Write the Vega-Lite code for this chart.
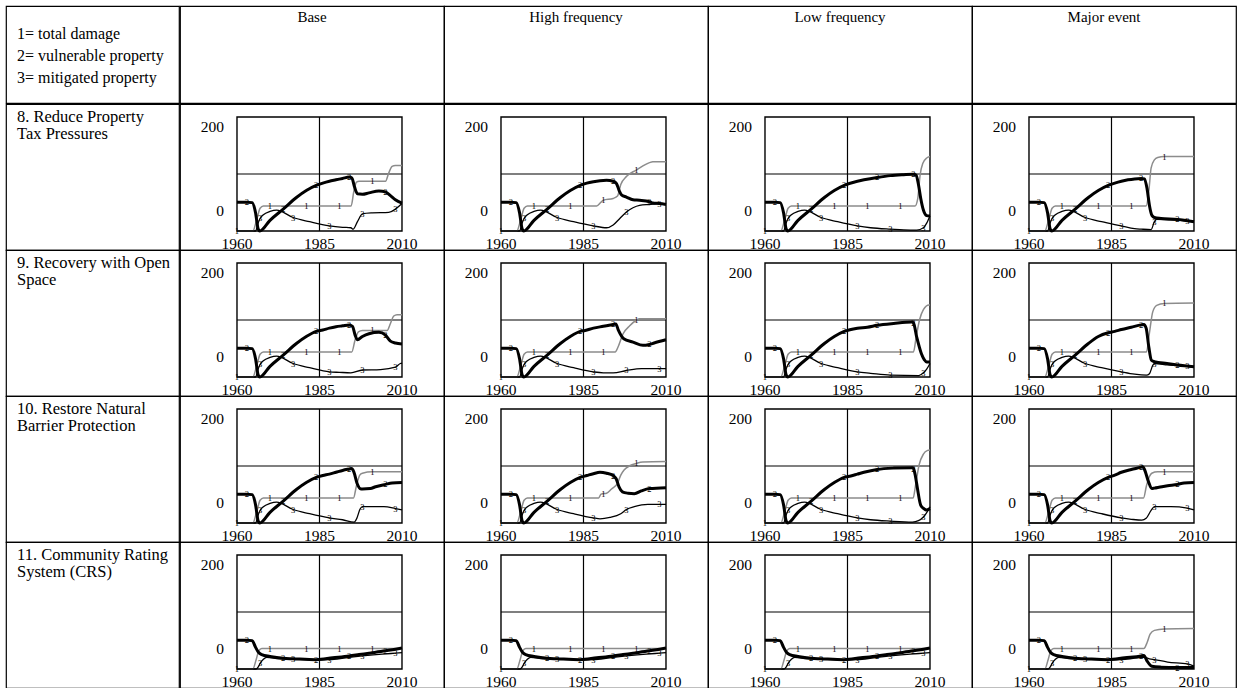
{
"$schema":"https://vega.github.io/schema/vega-lite/v6.json",
"padding":{"left":5,"top":5,"right":2,"bottom":1},
"background":"white",
"config":{"view":{"stroke":"#000000","strokeWidth":1.2},"facet":{"spacing":0},"text":{"font":"Liberation Serif"}},
"datasets":{"lines":[
{"r":8,"c":"B","k":1,"t":1960,"v":-45},{"r":8,"c":"B","k":1,"t":1964.8,"v":-45},{"r":8,"c":"B","k":1,"t":1966,"v":-20},{"r":8,"c":"B","k":1,"t":1967,"v":4},{"r":8,"c":"B","k":1,"t":1968,"v":9},{"r":8,"c":"B","k":1,"t":1970,"v":9},{"r":8,"c":"B","k":1,"t":1981,"v":9},{"r":8,"c":"B","k":1,"t":1991,"v":9},{"r":8,"c":"B","k":1,"t":1994.6,"v":9},{"r":8,"c":"B","k":1,"t":1995.4,"v":40},{"r":8,"c":"B","k":1,"t":1996.2,"v":60},{"r":8,"c":"B","k":1,"t":1997,"v":62},{"r":8,"c":"B","k":1,"t":2001,"v":62},{"r":8,"c":"B","k":1,"t":2005,"v":62},{"r":8,"c":"B","k":1,"t":2006,"v":80},{"r":8,"c":"B","k":1,"t":2007,"v":94},{"r":8,"c":"B","k":1,"t":2008,"v":96},{"r":8,"c":"B","k":1,"t":2010,"v":96},
{"r":8,"c":"B","k":2,"t":1960,"v":17},{"r":8,"c":"B","k":2,"t":1963,"v":17},{"r":8,"c":"B","k":2,"t":1964.6,"v":16},{"r":8,"c":"B","k":2,"t":1965.6,"v":-5},{"r":8,"c":"B","k":2,"t":1966.4,"v":-40},{"r":8,"c":"B","k":2,"t":1966.9,"v":-45},{"r":8,"c":"B","k":2,"t":1970,"v":-22},{"r":8,"c":"B","k":2,"t":1974,"v":2},{"r":8,"c":"B","k":2,"t":1978,"v":27},{"r":8,"c":"B","k":2,"t":1981,"v":42},{"r":8,"c":"B","k":2,"t":1984,"v":53},{"r":8,"c":"B","k":2,"t":1986,"v":58},{"r":8,"c":"B","k":2,"t":1988,"v":62},{"r":8,"c":"B","k":2,"t":1990,"v":65},{"r":8,"c":"B","k":2,"t":1992,"v":68},{"r":8,"c":"B","k":2,"t":1994,"v":71},{"r":8,"c":"B","k":2,"t":1994.8,"v":69},{"r":8,"c":"B","k":2,"t":1995.6,"v":50},{"r":8,"c":"B","k":2,"t":1996.5,"v":35},{"r":8,"c":"B","k":2,"t":1998,"v":34},{"r":8,"c":"B","k":2,"t":2000,"v":37},{"r":8,"c":"B","k":2,"t":2003,"v":41},{"r":8,"c":"B","k":2,"t":2005,"v":39},{"r":8,"c":"B","k":2,"t":2006.5,"v":31},{"r":8,"c":"B","k":2,"t":2008,"v":22},{"r":8,"c":"B","k":2,"t":2010,"v":15},
{"r":8,"c":"B","k":3,"t":1960,"v":-45},{"r":8,"c":"B","k":3,"t":1965.6,"v":-45},{"r":8,"c":"B","k":3,"t":1966.4,"v":-28},{"r":8,"c":"B","k":3,"t":1967,"v":-18},{"r":8,"c":"B","k":3,"t":1968,"v":-10},{"r":8,"c":"B","k":3,"t":1970,"v":-3},{"r":8,"c":"B","k":3,"t":1972,"v":0},{"r":8,"c":"B","k":3,"t":1977,"v":-16},{"r":8,"c":"B","k":3,"t":1982,"v":-25},{"r":8,"c":"B","k":3,"t":1988,"v":-34},{"r":8,"c":"B","k":3,"t":1992,"v":-37},{"r":8,"c":"B","k":3,"t":1994.5,"v":-38},{"r":8,"c":"B","k":3,"t":1995.2,"v":-41},{"r":8,"c":"B","k":3,"t":1996.5,"v":-25},{"r":8,"c":"B","k":3,"t":1998,"v":-8},{"r":8,"c":"B","k":3,"t":2001,"v":-6},{"r":8,"c":"B","k":3,"t":2006,"v":-5},{"r":8,"c":"B","k":3,"t":2008,"v":2},{"r":8,"c":"B","k":3,"t":2010,"v":14},

{"r":8,"c":"H","k":1,"t":1960,"v":-45},{"r":8,"c":"H","k":1,"t":1964.8,"v":-45},{"r":8,"c":"H","k":1,"t":1966,"v":-20},{"r":8,"c":"H","k":1,"t":1967,"v":4},{"r":8,"c":"H","k":1,"t":1968,"v":9},{"r":8,"c":"H","k":1,"t":1970,"v":9},{"r":8,"c":"H","k":1,"t":1981,"v":9},{"r":8,"c":"H","k":1,"t":1989,"v":9},{"r":8,"c":"H","k":1,"t":1990.3,"v":17},{"r":8,"c":"H","k":1,"t":1991,"v":21},{"r":8,"c":"H","k":1,"t":1994,"v":25},{"r":8,"c":"H","k":1,"t":1995.3,"v":30},{"r":8,"c":"H","k":1,"t":1996.3,"v":55},{"r":8,"c":"H","k":1,"t":1998,"v":72},{"r":8,"c":"H","k":1,"t":2001,"v":86},{"r":8,"c":"H","k":1,"t":2003,"v":95},{"r":8,"c":"H","k":1,"t":2005,"v":102},{"r":8,"c":"H","k":1,"t":2006,"v":104},{"r":8,"c":"H","k":1,"t":2010,"v":104},
{"r":8,"c":"H","k":2,"t":1960,"v":17},{"r":8,"c":"H","k":2,"t":1963,"v":17},{"r":8,"c":"H","k":2,"t":1964.6,"v":16},{"r":8,"c":"H","k":2,"t":1965.6,"v":-5},{"r":8,"c":"H","k":2,"t":1966.4,"v":-40},{"r":8,"c":"H","k":2,"t":1966.9,"v":-45},{"r":8,"c":"H","k":2,"t":1970,"v":-22},{"r":8,"c":"H","k":2,"t":1974,"v":2},{"r":8,"c":"H","k":2,"t":1978,"v":27},{"r":8,"c":"H","k":2,"t":1981,"v":42},{"r":8,"c":"H","k":2,"t":1984,"v":53},{"r":8,"c":"H","k":2,"t":1986,"v":58},{"r":8,"c":"H","k":2,"t":1988,"v":61},{"r":8,"c":"H","k":2,"t":1990,"v":63},{"r":8,"c":"H","k":2,"t":1992,"v":64},{"r":8,"c":"H","k":2,"t":1994,"v":62},{"r":8,"c":"H","k":2,"t":1995,"v":57},{"r":8,"c":"H","k":2,"t":1995.8,"v":42},{"r":8,"c":"H","k":2,"t":1996.6,"v":32},{"r":8,"c":"H","k":2,"t":1998,"v":28},{"r":8,"c":"H","k":2,"t":2000,"v":22},{"r":8,"c":"H","k":2,"t":2002,"v":21},{"r":8,"c":"H","k":2,"t":2005,"v":18},{"r":8,"c":"H","k":2,"t":2006,"v":15},{"r":8,"c":"H","k":2,"t":2008,"v":14},{"r":8,"c":"H","k":2,"t":2010,"v":12},
{"r":8,"c":"H","k":3,"t":1960,"v":-45},{"r":8,"c":"H","k":3,"t":1965.6,"v":-45},{"r":8,"c":"H","k":3,"t":1966.4,"v":-28},{"r":8,"c":"H","k":3,"t":1967,"v":-18},{"r":8,"c":"H","k":3,"t":1968,"v":-10},{"r":8,"c":"H","k":3,"t":1970,"v":-3},{"r":8,"c":"H","k":3,"t":1972,"v":0},{"r":8,"c":"H","k":3,"t":1977,"v":-16},{"r":8,"c":"H","k":3,"t":1982,"v":-25},{"r":8,"c":"H","k":3,"t":1988,"v":-34},{"r":8,"c":"H","k":3,"t":1992,"v":-38},{"r":8,"c":"H","k":3,"t":1994,"v":-32},{"r":8,"c":"H","k":3,"t":1996,"v":-18},{"r":8,"c":"H","k":3,"t":1998,"v":-4},{"r":8,"c":"H","k":3,"t":2000,"v":5},{"r":8,"c":"H","k":3,"t":2002,"v":10},{"r":8,"c":"H","k":3,"t":2005,"v":12},{"r":8,"c":"H","k":3,"t":2008,"v":14},{"r":8,"c":"H","k":3,"t":2010,"v":14},

{"r":8,"c":"L","k":1,"t":1960,"v":-45},{"r":8,"c":"L","k":1,"t":1964.8,"v":-45},{"r":8,"c":"L","k":1,"t":1966,"v":-20},{"r":8,"c":"L","k":1,"t":1967,"v":4},{"r":8,"c":"L","k":1,"t":1968,"v":9},{"r":8,"c":"L","k":1,"t":1970,"v":9},{"r":8,"c":"L","k":1,"t":1981,"v":9},{"r":8,"c":"L","k":1,"t":1991,"v":9},{"r":8,"c":"L","k":1,"t":2001,"v":9},{"r":8,"c":"L","k":1,"t":2005.5,"v":9},{"r":8,"c":"L","k":1,"t":2006.3,"v":25},{"r":8,"c":"L","k":1,"t":2007,"v":75},{"r":8,"c":"L","k":1,"t":2007.8,"v":100},{"r":8,"c":"L","k":1,"t":2009,"v":112},{"r":8,"c":"L","k":1,"t":2010,"v":115},
{"r":8,"c":"L","k":2,"t":1960,"v":17},{"r":8,"c":"L","k":2,"t":1963,"v":17},{"r":8,"c":"L","k":2,"t":1964.6,"v":16},{"r":8,"c":"L","k":2,"t":1965.6,"v":-5},{"r":8,"c":"L","k":2,"t":1966.4,"v":-40},{"r":8,"c":"L","k":2,"t":1966.9,"v":-45},{"r":8,"c":"L","k":2,"t":1970,"v":-22},{"r":8,"c":"L","k":2,"t":1974,"v":2},{"r":8,"c":"L","k":2,"t":1978,"v":27},{"r":8,"c":"L","k":2,"t":1981,"v":42},{"r":8,"c":"L","k":2,"t":1984,"v":53},{"r":8,"c":"L","k":2,"t":1988,"v":62},{"r":8,"c":"L","k":2,"t":1990,"v":65},{"r":8,"c":"L","k":2,"t":1994,"v":70},{"r":8,"c":"L","k":2,"t":1998,"v":74},{"r":8,"c":"L","k":2,"t":2002,"v":76},{"r":8,"c":"L","k":2,"t":2005,"v":77},{"r":8,"c":"L","k":2,"t":2005.8,"v":75},{"r":8,"c":"L","k":2,"t":2006.5,"v":55},{"r":8,"c":"L","k":2,"t":2007.2,"v":25},{"r":8,"c":"L","k":2,"t":2008,"v":0},{"r":8,"c":"L","k":2,"t":2009,"v":-12},{"r":8,"c":"L","k":2,"t":2010,"v":-13},
{"r":8,"c":"L","k":3,"t":1960,"v":-45},{"r":8,"c":"L","k":3,"t":1965.6,"v":-45},{"r":8,"c":"L","k":3,"t":1966.4,"v":-28},{"r":8,"c":"L","k":3,"t":1967,"v":-18},{"r":8,"c":"L","k":3,"t":1968,"v":-10},{"r":8,"c":"L","k":3,"t":1970,"v":-3},{"r":8,"c":"L","k":3,"t":1972,"v":0},{"r":8,"c":"L","k":3,"t":1977,"v":-16},{"r":8,"c":"L","k":3,"t":1982,"v":-25},{"r":8,"c":"L","k":3,"t":1988,"v":-34},{"r":8,"c":"L","k":3,"t":1992,"v":-38},{"r":8,"c":"L","k":3,"t":1998,"v":-41},{"r":8,"c":"L","k":3,"t":2004,"v":-43},{"r":8,"c":"L","k":3,"t":2006,"v":-43},{"r":8,"c":"L","k":3,"t":2008,"v":-38},{"r":8,"c":"L","k":3,"t":2009,"v":-28},{"r":8,"c":"L","k":3,"t":2010,"v":-12},

{"r":8,"c":"M","k":1,"t":1960,"v":-45},{"r":8,"c":"M","k":1,"t":1964.8,"v":-45},{"r":8,"c":"M","k":1,"t":1966,"v":-20},{"r":8,"c":"M","k":1,"t":1967,"v":4},{"r":8,"c":"M","k":1,"t":1968,"v":9},{"r":8,"c":"M","k":1,"t":1970,"v":9},{"r":8,"c":"M","k":1,"t":1981,"v":9},{"r":8,"c":"M","k":1,"t":1991,"v":9},{"r":8,"c":"M","k":1,"t":1995.5,"v":9},{"r":8,"c":"M","k":1,"t":1996.3,"v":40},{"r":8,"c":"M","k":1,"t":1997,"v":90},{"r":8,"c":"M","k":1,"t":1998,"v":108},{"r":8,"c":"M","k":1,"t":1999,"v":113},{"r":8,"c":"M","k":1,"t":2001,"v":115},{"r":8,"c":"M","k":1,"t":2010,"v":115},
{"r":8,"c":"M","k":2,"t":1960,"v":17},{"r":8,"c":"M","k":2,"t":1963,"v":17},{"r":8,"c":"M","k":2,"t":1964.6,"v":16},{"r":8,"c":"M","k":2,"t":1965.6,"v":-5},{"r":8,"c":"M","k":2,"t":1966.4,"v":-40},{"r":8,"c":"M","k":2,"t":1966.9,"v":-45},{"r":8,"c":"M","k":2,"t":1970,"v":-22},{"r":8,"c":"M","k":2,"t":1974,"v":2},{"r":8,"c":"M","k":2,"t":1978,"v":27},{"r":8,"c":"M","k":2,"t":1981,"v":42},{"r":8,"c":"M","k":2,"t":1984,"v":53},{"r":8,"c":"M","k":2,"t":1986,"v":58},{"r":8,"c":"M","k":2,"t":1988,"v":62},{"r":8,"c":"M","k":2,"t":1990,"v":65},{"r":8,"c":"M","k":2,"t":1992,"v":67},{"r":8,"c":"M","k":2,"t":1994,"v":68},{"r":8,"c":"M","k":2,"t":1995,"v":67},{"r":8,"c":"M","k":2,"t":1995.8,"v":45},{"r":8,"c":"M","k":2,"t":1996.5,"v":10},{"r":8,"c":"M","k":2,"t":1997.3,"v":-12},{"r":8,"c":"M","k":2,"t":1998,"v":-16},{"r":8,"c":"M","k":2,"t":2000,"v":-18},{"r":8,"c":"M","k":2,"t":2005,"v":-20},{"r":8,"c":"M","k":2,"t":2008,"v":-23},{"r":8,"c":"M","k":2,"t":2010,"v":-25},
{"r":8,"c":"M","k":3,"t":1960,"v":-45},{"r":8,"c":"M","k":3,"t":1965.6,"v":-45},{"r":8,"c":"M","k":3,"t":1966.4,"v":-28},{"r":8,"c":"M","k":3,"t":1967,"v":-18},{"r":8,"c":"M","k":3,"t":1968,"v":-10},{"r":8,"c":"M","k":3,"t":1970,"v":-3},{"r":8,"c":"M","k":3,"t":1972,"v":0},{"r":8,"c":"M","k":3,"t":1977,"v":-16},{"r":8,"c":"M","k":3,"t":1982,"v":-25},{"r":8,"c":"M","k":3,"t":1988,"v":-34},{"r":8,"c":"M","k":3,"t":1992,"v":-40},{"r":8,"c":"M","k":3,"t":1994,"v":-41},{"r":8,"c":"M","k":3,"t":1997,"v":-42},{"r":8,"c":"M","k":3,"t":1998,"v":-25},{"r":8,"c":"M","k":3,"t":1998.6,"v":-20},{"r":8,"c":"M","k":3,"t":2003,"v":-21},{"r":8,"c":"M","k":3,"t":2008,"v":-23},{"r":8,"c":"M","k":3,"t":2010,"v":-24},

{"r":9,"c":"B","k":1,"t":1960,"v":-45},{"r":9,"c":"B","k":1,"t":1964.8,"v":-45},{"r":9,"c":"B","k":1,"t":1966,"v":-20},{"r":9,"c":"B","k":1,"t":1967,"v":4},{"r":9,"c":"B","k":1,"t":1968,"v":9},{"r":9,"c":"B","k":1,"t":1970,"v":9},{"r":9,"c":"B","k":1,"t":1981,"v":9},{"r":9,"c":"B","k":1,"t":1991,"v":9},{"r":9,"c":"B","k":1,"t":1994.8,"v":9},{"r":9,"c":"B","k":1,"t":1995.8,"v":35},{"r":9,"c":"B","k":1,"t":1996.8,"v":52},{"r":9,"c":"B","k":1,"t":1998,"v":55},{"r":9,"c":"B","k":1,"t":2001,"v":55},{"r":9,"c":"B","k":1,"t":2005.5,"v":55},{"r":9,"c":"B","k":1,"t":2006.5,"v":70},{"r":9,"c":"B","k":1,"t":2007.5,"v":86},{"r":9,"c":"B","k":1,"t":2008.5,"v":89},{"r":9,"c":"B","k":1,"t":2010,"v":89},
{"r":9,"c":"B","k":2,"t":1960,"v":17},{"r":9,"c":"B","k":2,"t":1963,"v":17},{"r":9,"c":"B","k":2,"t":1964.6,"v":16},{"r":9,"c":"B","k":2,"t":1965.6,"v":-5},{"r":9,"c":"B","k":2,"t":1966.4,"v":-40},{"r":9,"c":"B","k":2,"t":1966.9,"v":-45},{"r":9,"c":"B","k":2,"t":1970,"v":-22},{"r":9,"c":"B","k":2,"t":1974,"v":2},{"r":9,"c":"B","k":2,"t":1978,"v":27},{"r":9,"c":"B","k":2,"t":1981,"v":42},{"r":9,"c":"B","k":2,"t":1984,"v":53},{"r":9,"c":"B","k":2,"t":1986,"v":56},{"r":9,"c":"B","k":2,"t":1988,"v":60},{"r":9,"c":"B","k":2,"t":1990,"v":63},{"r":9,"c":"B","k":2,"t":1992,"v":65},{"r":9,"c":"B","k":2,"t":1994,"v":67},{"r":9,"c":"B","k":2,"t":1995,"v":64},{"r":9,"c":"B","k":2,"t":1995.8,"v":45},{"r":9,"c":"B","k":2,"t":1996.5,"v":35},{"r":9,"c":"B","k":2,"t":1998,"v":42},{"r":9,"c":"B","k":2,"t":2000,"v":48},{"r":9,"c":"B","k":2,"t":2003,"v":51},{"r":9,"c":"B","k":2,"t":2005,"v":45},{"r":9,"c":"B","k":2,"t":2006.5,"v":32},{"r":9,"c":"B","k":2,"t":2008,"v":28},{"r":9,"c":"B","k":2,"t":2010,"v":26},
{"r":9,"c":"B","k":3,"t":1960,"v":-45},{"r":9,"c":"B","k":3,"t":1965.6,"v":-45},{"r":9,"c":"B","k":3,"t":1966.4,"v":-28},{"r":9,"c":"B","k":3,"t":1967,"v":-18},{"r":9,"c":"B","k":3,"t":1968,"v":-10},{"r":9,"c":"B","k":3,"t":1970,"v":-3},{"r":9,"c":"B","k":3,"t":1972,"v":0},{"r":9,"c":"B","k":3,"t":1977,"v":-16},{"r":9,"c":"B","k":3,"t":1982,"v":-25},{"r":9,"c":"B","k":3,"t":1988,"v":-34},{"r":9,"c":"B","k":3,"t":1991,"v":-35},{"r":9,"c":"B","k":3,"t":1994.5,"v":-36},{"r":9,"c":"B","k":3,"t":1998,"v":-30},{"r":9,"c":"B","k":3,"t":2003.5,"v":-29},{"r":9,"c":"B","k":3,"t":2008,"v":-24},{"r":9,"c":"B","k":3,"t":2009.5,"v":-16},{"r":9,"c":"B","k":3,"t":2010,"v":-15},

{"r":9,"c":"H","k":1,"t":1960,"v":-45},{"r":9,"c":"H","k":1,"t":1964.8,"v":-45},{"r":9,"c":"H","k":1,"t":1966,"v":-20},{"r":9,"c":"H","k":1,"t":1967,"v":4},{"r":9,"c":"H","k":1,"t":1968,"v":9},{"r":9,"c":"H","k":1,"t":1970,"v":9},{"r":9,"c":"H","k":1,"t":1981,"v":9},{"r":9,"c":"H","k":1,"t":1991,"v":9},{"r":9,"c":"H","k":1,"t":1994.6,"v":9},{"r":9,"c":"H","k":1,"t":1995.5,"v":20},{"r":9,"c":"H","k":1,"t":1997,"v":48},{"r":9,"c":"H","k":1,"t":1999,"v":65},{"r":9,"c":"H","k":1,"t":2001,"v":77},{"r":9,"c":"H","k":1,"t":2002,"v":80},{"r":9,"c":"H","k":1,"t":2010,"v":80},
{"r":9,"c":"H","k":2,"t":1960,"v":17},{"r":9,"c":"H","k":2,"t":1963,"v":17},{"r":9,"c":"H","k":2,"t":1964.6,"v":16},{"r":9,"c":"H","k":2,"t":1965.6,"v":-5},{"r":9,"c":"H","k":2,"t":1966.4,"v":-40},{"r":9,"c":"H","k":2,"t":1966.9,"v":-45},{"r":9,"c":"H","k":2,"t":1970,"v":-22},{"r":9,"c":"H","k":2,"t":1974,"v":2},{"r":9,"c":"H","k":2,"t":1978,"v":27},{"r":9,"c":"H","k":2,"t":1981,"v":42},{"r":9,"c":"H","k":2,"t":1984,"v":53},{"r":9,"c":"H","k":2,"t":1985.5,"v":55},{"r":9,"c":"H","k":2,"t":1988,"v":60},{"r":9,"c":"H","k":2,"t":1991,"v":64},{"r":9,"c":"H","k":2,"t":1994,"v":68},{"r":9,"c":"H","k":2,"t":1994.8,"v":69},{"r":9,"c":"H","k":2,"t":1995.6,"v":55},{"r":9,"c":"H","k":2,"t":1997.2,"v":37},{"r":9,"c":"H","k":2,"t":2000,"v":30},{"r":9,"c":"H","k":2,"t":2003,"v":23},{"r":9,"c":"H","k":2,"t":2005,"v":25},{"r":9,"c":"H","k":2,"t":2006.4,"v":28},{"r":9,"c":"H","k":2,"t":2010,"v":35},
{"r":9,"c":"H","k":3,"t":1960,"v":-45},{"r":9,"c":"H","k":3,"t":1965.6,"v":-45},{"r":9,"c":"H","k":3,"t":1966.4,"v":-28},{"r":9,"c":"H","k":3,"t":1967,"v":-18},{"r":9,"c":"H","k":3,"t":1968,"v":-10},{"r":9,"c":"H","k":3,"t":1970,"v":-3},{"r":9,"c":"H","k":3,"t":1972,"v":0},{"r":9,"c":"H","k":3,"t":1977,"v":-16},{"r":9,"c":"H","k":3,"t":1982,"v":-25},{"r":9,"c":"H","k":3,"t":1988,"v":-34},{"r":9,"c":"H","k":3,"t":1991,"v":-36},{"r":9,"c":"H","k":3,"t":1994,"v":-36},{"r":9,"c":"H","k":3,"t":1998,"v":-31},{"r":9,"c":"H","k":3,"t":2002.6,"v":-27},{"r":9,"c":"H","k":3,"t":2008,"v":-27},{"r":9,"c":"H","k":3,"t":2010,"v":-27},

{"r":9,"c":"L","k":1,"t":1960,"v":-45},{"r":9,"c":"L","k":1,"t":1964.8,"v":-45},{"r":9,"c":"L","k":1,"t":1966,"v":-20},{"r":9,"c":"L","k":1,"t":1967,"v":4},{"r":9,"c":"L","k":1,"t":1968,"v":9},{"r":9,"c":"L","k":1,"t":1970,"v":9},{"r":9,"c":"L","k":1,"t":1981,"v":9},{"r":9,"c":"L","k":1,"t":1991,"v":9},{"r":9,"c":"L","k":1,"t":2001,"v":9},{"r":9,"c":"L","k":1,"t":2005,"v":9},{"r":9,"c":"L","k":1,"t":2005.8,"v":40},{"r":9,"c":"L","k":1,"t":2006.8,"v":77},{"r":9,"c":"L","k":1,"t":2008,"v":100},{"r":9,"c":"L","k":1,"t":2009.7,"v":110},{"r":9,"c":"L","k":1,"t":2010,"v":110},
{"r":9,"c":"L","k":2,"t":1960,"v":17},{"r":9,"c":"L","k":2,"t":1963,"v":17},{"r":9,"c":"L","k":2,"t":1964.6,"v":16},{"r":9,"c":"L","k":2,"t":1965.6,"v":-5},{"r":9,"c":"L","k":2,"t":1966.4,"v":-40},{"r":9,"c":"L","k":2,"t":1966.9,"v":-45},{"r":9,"c":"L","k":2,"t":1970,"v":-22},{"r":9,"c":"L","k":2,"t":1974,"v":2},{"r":9,"c":"L","k":2,"t":1978,"v":27},{"r":9,"c":"L","k":2,"t":1981,"v":42},{"r":9,"c":"L","k":2,"t":1984,"v":53},{"r":9,"c":"L","k":2,"t":1988,"v":60},{"r":9,"c":"L","k":2,"t":1991,"v":62},{"r":9,"c":"L","k":2,"t":1994,"v":66},{"r":9,"c":"L","k":2,"t":1999,"v":70},{"r":9,"c":"L","k":2,"t":2004.5,"v":73},{"r":9,"c":"L","k":2,"t":2005,"v":71},{"r":9,"c":"L","k":2,"t":2006,"v":40},{"r":9,"c":"L","k":2,"t":2007.4,"v":5},{"r":9,"c":"L","k":2,"t":2008.3,"v":-8},{"r":9,"c":"L","k":2,"t":2009,"v":-13},{"r":9,"c":"L","k":2,"t":2010,"v":-13},
{"r":9,"c":"L","k":3,"t":1960,"v":-45},{"r":9,"c":"L","k":3,"t":1965.6,"v":-45},{"r":9,"c":"L","k":3,"t":1966.4,"v":-28},{"r":9,"c":"L","k":3,"t":1967,"v":-18},{"r":9,"c":"L","k":3,"t":1968,"v":-10},{"r":9,"c":"L","k":3,"t":1970,"v":-3},{"r":9,"c":"L","k":3,"t":1972,"v":0},{"r":9,"c":"L","k":3,"t":1977,"v":-16},{"r":9,"c":"L","k":3,"t":1982,"v":-25},{"r":9,"c":"L","k":3,"t":1988,"v":-34},{"r":9,"c":"L","k":3,"t":1992,"v":-37},{"r":9,"c":"L","k":3,"t":1998,"v":-41},{"r":9,"c":"L","k":3,"t":2006.6,"v":-42},{"r":9,"c":"L","k":3,"t":2008,"v":-36},{"r":9,"c":"L","k":3,"t":2009,"v":-28},{"r":9,"c":"L","k":3,"t":2010,"v":-16},

{"r":9,"c":"M","k":1,"t":1960,"v":-45},{"r":9,"c":"M","k":1,"t":1964.8,"v":-45},{"r":9,"c":"M","k":1,"t":1966,"v":-20},{"r":9,"c":"M","k":1,"t":1967,"v":4},{"r":9,"c":"M","k":1,"t":1968,"v":9},{"r":9,"c":"M","k":1,"t":1970,"v":9},{"r":9,"c":"M","k":1,"t":1981,"v":9},{"r":9,"c":"M","k":1,"t":1991,"v":9},{"r":9,"c":"M","k":1,"t":1995.6,"v":9},{"r":9,"c":"M","k":1,"t":1996.5,"v":50},{"r":9,"c":"M","k":1,"t":1997.5,"v":95},{"r":9,"c":"M","k":1,"t":1998.7,"v":109},{"r":9,"c":"M","k":1,"t":2001,"v":113},{"r":9,"c":"M","k":1,"t":2010,"v":114},
{"r":9,"c":"M","k":2,"t":1960,"v":17},{"r":9,"c":"M","k":2,"t":1963,"v":17},{"r":9,"c":"M","k":2,"t":1964.6,"v":16},{"r":9,"c":"M","k":2,"t":1965.6,"v":-5},{"r":9,"c":"M","k":2,"t":1966.4,"v":-40},{"r":9,"c":"M","k":2,"t":1966.9,"v":-45},{"r":9,"c":"M","k":2,"t":1970,"v":-22},{"r":9,"c":"M","k":2,"t":1974,"v":2},{"r":9,"c":"M","k":2,"t":1978,"v":27},{"r":9,"c":"M","k":2,"t":1981,"v":42},{"r":9,"c":"M","k":2,"t":1984,"v":50},{"r":9,"c":"M","k":2,"t":1986,"v":53},{"r":9,"c":"M","k":2,"t":1988,"v":57},{"r":9,"c":"M","k":2,"t":1991,"v":62},{"r":9,"c":"M","k":2,"t":1994,"v":67},{"r":9,"c":"M","k":2,"t":1994.8,"v":68},{"r":9,"c":"M","k":2,"t":1995.5,"v":60},{"r":9,"c":"M","k":2,"t":1996.3,"v":20},{"r":9,"c":"M","k":2,"t":1997.1,"v":-9},{"r":9,"c":"M","k":2,"t":1998,"v":-12},{"r":9,"c":"M","k":2,"t":2001.8,"v":-16},{"r":9,"c":"M","k":2,"t":2005,"v":-19},{"r":9,"c":"M","k":2,"t":2010,"v":-23},
{"r":9,"c":"M","k":3,"t":1960,"v":-45},{"r":9,"c":"M","k":3,"t":1965.6,"v":-45},{"r":9,"c":"M","k":3,"t":1966.4,"v":-28},{"r":9,"c":"M","k":3,"t":1967,"v":-18},{"r":9,"c":"M","k":3,"t":1968,"v":-10},{"r":9,"c":"M","k":3,"t":1970,"v":-3},{"r":9,"c":"M","k":3,"t":1972,"v":0},{"r":9,"c":"M","k":3,"t":1977,"v":-16},{"r":9,"c":"M","k":3,"t":1982,"v":-25},{"r":9,"c":"M","k":3,"t":1988,"v":-34},{"r":9,"c":"M","k":3,"t":1992,"v":-39},{"r":9,"c":"M","k":3,"t":1995.6,"v":-41},{"r":9,"c":"M","k":3,"t":1996.5,"v":-38},{"r":9,"c":"M","k":3,"t":1997.5,"v":-20},{"r":9,"c":"M","k":3,"t":1998,"v":-16},{"r":9,"c":"M","k":3,"t":2002,"v":-19},{"r":9,"c":"M","k":3,"t":2008,"v":-22},{"r":9,"c":"M","k":3,"t":2010,"v":-23},

{"r":10,"c":"B","k":1,"t":1960,"v":-45},{"r":10,"c":"B","k":1,"t":1964.8,"v":-45},{"r":10,"c":"B","k":1,"t":1966,"v":-20},{"r":10,"c":"B","k":1,"t":1967,"v":4},{"r":10,"c":"B","k":1,"t":1968,"v":9},{"r":10,"c":"B","k":1,"t":1970,"v":9},{"r":10,"c":"B","k":1,"t":1981,"v":9},{"r":10,"c":"B","k":1,"t":1991,"v":9},{"r":10,"c":"B","k":1,"t":1995.3,"v":9},{"r":10,"c":"B","k":1,"t":1996.2,"v":35},{"r":10,"c":"B","k":1,"t":1997.2,"v":58},{"r":10,"c":"B","k":1,"t":1998,"v":62},{"r":10,"c":"B","k":1,"t":2001,"v":65},{"r":10,"c":"B","k":1,"t":2010,"v":65},
{"r":10,"c":"B","k":2,"t":1960,"v":17},{"r":10,"c":"B","k":2,"t":1963,"v":17},{"r":10,"c":"B","k":2,"t":1964.6,"v":16},{"r":10,"c":"B","k":2,"t":1965.6,"v":-5},{"r":10,"c":"B","k":2,"t":1966.4,"v":-40},{"r":10,"c":"B","k":2,"t":1966.9,"v":-45},{"r":10,"c":"B","k":2,"t":1970,"v":-22},{"r":10,"c":"B","k":2,"t":1974,"v":2},{"r":10,"c":"B","k":2,"t":1978,"v":27},{"r":10,"c":"B","k":2,"t":1981,"v":42},{"r":10,"c":"B","k":2,"t":1984,"v":53},{"r":10,"c":"B","k":2,"t":1986,"v":57},{"r":10,"c":"B","k":2,"t":1988,"v":60},{"r":10,"c":"B","k":2,"t":1990,"v":64},{"r":10,"c":"B","k":2,"t":1992,"v":68},{"r":10,"c":"B","k":2,"t":1994,"v":71},{"r":10,"c":"B","k":2,"t":1994.7,"v":72},{"r":10,"c":"B","k":2,"t":1995.4,"v":65},{"r":10,"c":"B","k":2,"t":1996.4,"v":40},{"r":10,"c":"B","k":2,"t":1997.3,"v":29},{"r":10,"c":"B","k":2,"t":1998,"v":28},{"r":10,"c":"B","k":2,"t":2000.4,"v":29},{"r":10,"c":"B","k":2,"t":2002,"v":33},{"r":10,"c":"B","k":2,"t":2005,"v":38},{"r":10,"c":"B","k":2,"t":2007,"v":41},{"r":10,"c":"B","k":2,"t":2010,"v":42},
{"r":10,"c":"B","k":3,"t":1960,"v":-45},{"r":10,"c":"B","k":3,"t":1965.6,"v":-45},{"r":10,"c":"B","k":3,"t":1966.4,"v":-28},{"r":10,"c":"B","k":3,"t":1967,"v":-18},{"r":10,"c":"B","k":3,"t":1968,"v":-10},{"r":10,"c":"B","k":3,"t":1970,"v":-3},{"r":10,"c":"B","k":3,"t":1972,"v":0},{"r":10,"c":"B","k":3,"t":1977,"v":-16},{"r":10,"c":"B","k":3,"t":1982,"v":-25},{"r":10,"c":"B","k":3,"t":1988,"v":-34},{"r":10,"c":"B","k":3,"t":1992,"v":-38},{"r":10,"c":"B","k":3,"t":1995.5,"v":-43},{"r":10,"c":"B","k":3,"t":1996.3,"v":-35},{"r":10,"c":"B","k":3,"t":1997.3,"v":-15},{"r":10,"c":"B","k":3,"t":1998,"v":-10},{"r":10,"c":"B","k":3,"t":2004.5,"v":-10},{"r":10,"c":"B","k":3,"t":2008,"v":-14},{"r":10,"c":"B","k":3,"t":2010,"v":-17},

{"r":10,"c":"H","k":1,"t":1960,"v":-45},{"r":10,"c":"H","k":1,"t":1964.8,"v":-45},{"r":10,"c":"H","k":1,"t":1966,"v":-20},{"r":10,"c":"H","k":1,"t":1967,"v":4},{"r":10,"c":"H","k":1,"t":1968,"v":9},{"r":10,"c":"H","k":1,"t":1970,"v":9},{"r":10,"c":"H","k":1,"t":1981,"v":9},{"r":10,"c":"H","k":1,"t":1989.6,"v":9},{"r":10,"c":"H","k":1,"t":1990.3,"v":17},{"r":10,"c":"H","k":1,"t":1991,"v":18},{"r":10,"c":"H","k":1,"t":1992,"v":19},{"r":10,"c":"H","k":1,"t":1993.5,"v":28},{"r":10,"c":"H","k":1,"t":1995.3,"v":40},{"r":10,"c":"H","k":1,"t":1996.3,"v":58},{"r":10,"c":"H","k":1,"t":1997.3,"v":69},{"r":10,"c":"H","k":1,"t":1999,"v":78},{"r":10,"c":"H","k":1,"t":2001,"v":83},{"r":10,"c":"H","k":1,"t":2003,"v":86},{"r":10,"c":"H","k":1,"t":2010,"v":87},
{"r":10,"c":"H","k":2,"t":1960,"v":17},{"r":10,"c":"H","k":2,"t":1963,"v":17},{"r":10,"c":"H","k":2,"t":1964.6,"v":16},{"r":10,"c":"H","k":2,"t":1965.6,"v":-5},{"r":10,"c":"H","k":2,"t":1966.4,"v":-40},{"r":10,"c":"H","k":2,"t":1966.9,"v":-45},{"r":10,"c":"H","k":2,"t":1970,"v":-22},{"r":10,"c":"H","k":2,"t":1974,"v":2},{"r":10,"c":"H","k":2,"t":1978,"v":27},{"r":10,"c":"H","k":2,"t":1981,"v":42},{"r":10,"c":"H","k":2,"t":1984,"v":53},{"r":10,"c":"H","k":2,"t":1986,"v":57},{"r":10,"c":"H","k":2,"t":1988,"v":61},{"r":10,"c":"H","k":2,"t":1990,"v":64},{"r":10,"c":"H","k":2,"t":1992,"v":62},{"r":10,"c":"H","k":2,"t":1994,"v":57},{"r":10,"c":"H","k":2,"t":1994.9,"v":50},{"r":10,"c":"H","k":2,"t":1995.8,"v":32},{"r":10,"c":"H","k":2,"t":1996.8,"v":22},{"r":10,"c":"H","k":2,"t":1998.5,"v":19},{"r":10,"c":"H","k":2,"t":2000.4,"v":18},{"r":10,"c":"H","k":2,"t":2002.5,"v":24},{"r":10,"c":"H","k":2,"t":2005,"v":29},{"r":10,"c":"H","k":2,"t":2010,"v":31},
{"r":10,"c":"H","k":3,"t":1960,"v":-45},{"r":10,"c":"H","k":3,"t":1965.6,"v":-45},{"r":10,"c":"H","k":3,"t":1966.4,"v":-28},{"r":10,"c":"H","k":3,"t":1967,"v":-18},{"r":10,"c":"H","k":3,"t":1968,"v":-10},{"r":10,"c":"H","k":3,"t":1970,"v":-3},{"r":10,"c":"H","k":3,"t":1972,"v":0},{"r":10,"c":"H","k":3,"t":1977,"v":-16},{"r":10,"c":"H","k":3,"t":1982,"v":-25},{"r":10,"c":"H","k":3,"t":1988,"v":-34},{"r":10,"c":"H","k":3,"t":1990,"v":-36},{"r":10,"c":"H","k":3,"t":1993,"v":-33},{"r":10,"c":"H","k":3,"t":1996.3,"v":-25},{"r":10,"c":"H","k":3,"t":1998,"v":-16},{"r":10,"c":"H","k":3,"t":2000.4,"v":-10},{"r":10,"c":"H","k":3,"t":2004.5,"v":-5},{"r":10,"c":"H","k":3,"t":2008,"v":-5},{"r":10,"c":"H","k":3,"t":2010,"v":-5},

{"r":10,"c":"L","k":1,"t":1960,"v":-45},{"r":10,"c":"L","k":1,"t":1964.8,"v":-45},{"r":10,"c":"L","k":1,"t":1966,"v":-20},{"r":10,"c":"L","k":1,"t":1967,"v":4},{"r":10,"c":"L","k":1,"t":1968,"v":9},{"r":10,"c":"L","k":1,"t":1970,"v":9},{"r":10,"c":"L","k":1,"t":1981,"v":9},{"r":10,"c":"L","k":1,"t":1991,"v":9},{"r":10,"c":"L","k":1,"t":2001,"v":9},{"r":10,"c":"L","k":1,"t":2004.9,"v":9},{"r":10,"c":"L","k":1,"t":2005.6,"v":35},{"r":10,"c":"L","k":1,"t":2006.7,"v":80},{"r":10,"c":"L","k":1,"t":2008,"v":103},{"r":10,"c":"L","k":1,"t":2009.3,"v":111},{"r":10,"c":"L","k":1,"t":2010,"v":112},
{"r":10,"c":"L","k":2,"t":1960,"v":17},{"r":10,"c":"L","k":2,"t":1963,"v":17},{"r":10,"c":"L","k":2,"t":1964.6,"v":16},{"r":10,"c":"L","k":2,"t":1965.6,"v":-5},{"r":10,"c":"L","k":2,"t":1966.4,"v":-40},{"r":10,"c":"L","k":2,"t":1966.9,"v":-45},{"r":10,"c":"L","k":2,"t":1970,"v":-22},{"r":10,"c":"L","k":2,"t":1974,"v":2},{"r":10,"c":"L","k":2,"t":1978,"v":27},{"r":10,"c":"L","k":2,"t":1981,"v":42},{"r":10,"c":"L","k":2,"t":1984,"v":53},{"r":10,"c":"L","k":2,"t":1986,"v":56},{"r":10,"c":"L","k":2,"t":1988,"v":60},{"r":10,"c":"L","k":2,"t":1990,"v":64},{"r":10,"c":"L","k":2,"t":1994,"v":70},{"r":10,"c":"L","k":2,"t":1999,"v":73},{"r":10,"c":"L","k":2,"t":2004.5,"v":74},{"r":10,"c":"L","k":2,"t":2005,"v":72},{"r":10,"c":"L","k":2,"t":2005.6,"v":55},{"r":10,"c":"L","k":2,"t":2006.2,"v":29},{"r":10,"c":"L","k":2,"t":2007.2,"v":-7},{"r":10,"c":"L","k":2,"t":2008.3,"v":-15},{"r":10,"c":"L","k":2,"t":2008.8,"v":-17},{"r":10,"c":"L","k":2,"t":2010,"v":-14},
{"r":10,"c":"L","k":3,"t":1960,"v":-45},{"r":10,"c":"L","k":3,"t":1965.6,"v":-45},{"r":10,"c":"L","k":3,"t":1966.4,"v":-28},{"r":10,"c":"L","k":3,"t":1967,"v":-18},{"r":10,"c":"L","k":3,"t":1968,"v":-10},{"r":10,"c":"L","k":3,"t":1970,"v":-3},{"r":10,"c":"L","k":3,"t":1972,"v":0},{"r":10,"c":"L","k":3,"t":1977,"v":-16},{"r":10,"c":"L","k":3,"t":1982,"v":-25},{"r":10,"c":"L","k":3,"t":1988,"v":-34},{"r":10,"c":"L","k":3,"t":1992,"v":-38},{"r":10,"c":"L","k":3,"t":1998,"v":-41},{"r":10,"c":"L","k":3,"t":2004.7,"v":-43},{"r":10,"c":"L","k":3,"t":2006.5,"v":-40},{"r":10,"c":"L","k":3,"t":2008,"v":-32},{"r":10,"c":"L","k":3,"t":2008.8,"v":-25},{"r":10,"c":"L","k":3,"t":2010,"v":-10},

{"r":10,"c":"M","k":1,"t":1960,"v":-45},{"r":10,"c":"M","k":1,"t":1964.8,"v":-45},{"r":10,"c":"M","k":1,"t":1966,"v":-20},{"r":10,"c":"M","k":1,"t":1967,"v":4},{"r":10,"c":"M","k":1,"t":1968,"v":9},{"r":10,"c":"M","k":1,"t":1970,"v":9},{"r":10,"c":"M","k":1,"t":1981,"v":9},{"r":10,"c":"M","k":1,"t":1991,"v":9},{"r":10,"c":"M","k":1,"t":1994.7,"v":9},{"r":10,"c":"M","k":1,"t":1995.6,"v":35},{"r":10,"c":"M","k":1,"t":1996.5,"v":55},{"r":10,"c":"M","k":1,"t":1997.2,"v":62},{"r":10,"c":"M","k":1,"t":1999,"v":65},{"r":10,"c":"M","k":1,"t":2001,"v":65},{"r":10,"c":"M","k":1,"t":2010,"v":65},
{"r":10,"c":"M","k":2,"t":1960,"v":17},{"r":10,"c":"M","k":2,"t":1963,"v":17},{"r":10,"c":"M","k":2,"t":1964.6,"v":16},{"r":10,"c":"M","k":2,"t":1965.6,"v":-5},{"r":10,"c":"M","k":2,"t":1966.4,"v":-40},{"r":10,"c":"M","k":2,"t":1966.9,"v":-45},{"r":10,"c":"M","k":2,"t":1970,"v":-22},{"r":10,"c":"M","k":2,"t":1974,"v":2},{"r":10,"c":"M","k":2,"t":1978,"v":27},{"r":10,"c":"M","k":2,"t":1981,"v":42},{"r":10,"c":"M","k":2,"t":1984,"v":53},{"r":10,"c":"M","k":2,"t":1986,"v":58},{"r":10,"c":"M","k":2,"t":1988,"v":64},{"r":10,"c":"M","k":2,"t":1991,"v":70},{"r":10,"c":"M","k":2,"t":1994,"v":75},{"r":10,"c":"M","k":2,"t":1994.5,"v":76},{"r":10,"c":"M","k":2,"t":1995,"v":70},{"r":10,"c":"M","k":2,"t":1996.2,"v":44},{"r":10,"c":"M","k":2,"t":1997.2,"v":29},{"r":10,"c":"M","k":2,"t":1998,"v":30},{"r":10,"c":"M","k":2,"t":2000.3,"v":33},{"r":10,"c":"M","k":2,"t":2002,"v":35},{"r":10,"c":"M","k":2,"t":2005,"v":38},{"r":10,"c":"M","k":2,"t":2007,"v":41},{"r":10,"c":"M","k":2,"t":2010,"v":42},
{"r":10,"c":"M","k":3,"t":1960,"v":-45},{"r":10,"c":"M","k":3,"t":1965.6,"v":-45},{"r":10,"c":"M","k":3,"t":1966.4,"v":-28},{"r":10,"c":"M","k":3,"t":1967,"v":-18},{"r":10,"c":"M","k":3,"t":1968,"v":-10},{"r":10,"c":"M","k":3,"t":1970,"v":-3},{"r":10,"c":"M","k":3,"t":1972,"v":0},{"r":10,"c":"M","k":3,"t":1977,"v":-16},{"r":10,"c":"M","k":3,"t":1982,"v":-25},{"r":10,"c":"M","k":3,"t":1988,"v":-34},{"r":10,"c":"M","k":3,"t":1991,"v":-37},{"r":10,"c":"M","k":3,"t":1994.2,"v":-39},{"r":10,"c":"M","k":3,"t":1995.5,"v":-35},{"r":10,"c":"M","k":3,"t":1997,"v":-18},{"r":10,"c":"M","k":3,"t":1998,"v":-10},{"r":10,"c":"M","k":3,"t":2003,"v":-10},{"r":10,"c":"M","k":3,"t":2008,"v":-13},{"r":10,"c":"M","k":3,"t":2010,"v":-17},

{"r":11,"c":"B","k":1,"t":1960,"v":-45},{"r":11,"c":"B","k":1,"t":1964.8,"v":-45},{"r":11,"c":"B","k":1,"t":1965.8,"v":-25},{"r":11,"c":"B","k":1,"t":1966.6,"v":-6},{"r":11,"c":"B","k":1,"t":1967.5,"v":-1},{"r":11,"c":"B","k":1,"t":1970,"v":-1},{"r":11,"c":"B","k":1,"t":1981,"v":-1},{"r":11,"c":"B","k":1,"t":1991,"v":-1},{"r":11,"c":"B","k":1,"t":2001,"v":-1},{"r":11,"c":"B","k":1,"t":2010,"v":-1},
{"r":11,"c":"B","k":2,"t":1960,"v":17},{"r":11,"c":"B","k":2,"t":1963,"v":17},{"r":11,"c":"B","k":2,"t":1964.6,"v":16},{"r":11,"c":"B","k":2,"t":1965.6,"v":2},{"r":11,"c":"B","k":2,"t":1966.5,"v":-9},{"r":11,"c":"B","k":2,"t":1967.5,"v":-14},{"r":11,"c":"B","k":2,"t":1970,"v":-18},{"r":11,"c":"B","k":2,"t":1974,"v":-22},{"r":11,"c":"B","k":2,"t":1977,"v":-23},{"r":11,"c":"B","k":2,"t":1984,"v":-25},{"r":11,"c":"B","k":2,"t":1989,"v":-21},{"r":11,"c":"B","k":2,"t":1994,"v":-17},{"r":11,"c":"B","k":2,"t":1997,"v":-14},{"r":11,"c":"B","k":2,"t":2000,"v":-11},{"r":11,"c":"B","k":2,"t":2005,"v":-6},{"r":11,"c":"B","k":2,"t":2010,"v":0},
{"r":11,"c":"B","k":3,"t":1960,"v":-45},{"r":11,"c":"B","k":3,"t":1965.8,"v":-45},{"r":11,"c":"B","k":3,"t":1966.5,"v":-40},{"r":11,"c":"B","k":3,"t":1967,"v":-33},{"r":11,"c":"B","k":3,"t":1968,"v":-24},{"r":11,"c":"B","k":3,"t":1969,"v":-20},{"r":11,"c":"B","k":3,"t":1972,"v":-22},{"r":11,"c":"B","k":3,"t":1977,"v":-24},{"r":11,"c":"B","k":3,"t":1985,"v":-26},{"r":11,"c":"B","k":3,"t":1988,"v":-25},{"r":11,"c":"B","k":3,"t":1993,"v":-21},{"r":11,"c":"B","k":3,"t":1998,"v":-17},{"r":11,"c":"B","k":3,"t":2004,"v":-13},{"r":11,"c":"B","k":3,"t":2008,"v":-11},{"r":11,"c":"B","k":3,"t":2010,"v":-10},

{"r":11,"c":"H","k":1,"t":1960,"v":-45},{"r":11,"c":"H","k":1,"t":1964.8,"v":-45},{"r":11,"c":"H","k":1,"t":1965.8,"v":-25},{"r":11,"c":"H","k":1,"t":1966.6,"v":-6},{"r":11,"c":"H","k":1,"t":1967.5,"v":-1},{"r":11,"c":"H","k":1,"t":1970,"v":-1},{"r":11,"c":"H","k":1,"t":1981,"v":-1},{"r":11,"c":"H","k":1,"t":1991,"v":-1},{"r":11,"c":"H","k":1,"t":2001,"v":-1},{"r":11,"c":"H","k":1,"t":2010,"v":-1},
{"r":11,"c":"H","k":2,"t":1960,"v":17},{"r":11,"c":"H","k":2,"t":1963,"v":17},{"r":11,"c":"H","k":2,"t":1964.6,"v":16},{"r":11,"c":"H","k":2,"t":1965.6,"v":2},{"r":11,"c":"H","k":2,"t":1966.5,"v":-9},{"r":11,"c":"H","k":2,"t":1967.5,"v":-14},{"r":11,"c":"H","k":2,"t":1970,"v":-18},{"r":11,"c":"H","k":2,"t":1974,"v":-22},{"r":11,"c":"H","k":2,"t":1977,"v":-23},{"r":11,"c":"H","k":2,"t":1984,"v":-25},{"r":11,"c":"H","k":2,"t":1989,"v":-21},{"r":11,"c":"H","k":2,"t":1994,"v":-17},{"r":11,"c":"H","k":2,"t":1997,"v":-14},{"r":11,"c":"H","k":2,"t":2000,"v":-11},{"r":11,"c":"H","k":2,"t":2005,"v":-6},{"r":11,"c":"H","k":2,"t":2010,"v":0},
{"r":11,"c":"H","k":3,"t":1960,"v":-45},{"r":11,"c":"H","k":3,"t":1965.8,"v":-45},{"r":11,"c":"H","k":3,"t":1966.5,"v":-40},{"r":11,"c":"H","k":3,"t":1967,"v":-33},{"r":11,"c":"H","k":3,"t":1968,"v":-24},{"r":11,"c":"H","k":3,"t":1969,"v":-20},{"r":11,"c":"H","k":3,"t":1972,"v":-22},{"r":11,"c":"H","k":3,"t":1977,"v":-24},{"r":11,"c":"H","k":3,"t":1985,"v":-26},{"r":11,"c":"H","k":3,"t":1988,"v":-25},{"r":11,"c":"H","k":3,"t":1993,"v":-21},{"r":11,"c":"H","k":3,"t":1998,"v":-17},{"r":11,"c":"H","k":3,"t":2004,"v":-13},{"r":11,"c":"H","k":3,"t":2008,"v":-11},{"r":11,"c":"H","k":3,"t":2010,"v":-10},

{"r":11,"c":"L","k":1,"t":1960,"v":-45},{"r":11,"c":"L","k":1,"t":1964.8,"v":-45},{"r":11,"c":"L","k":1,"t":1965.8,"v":-25},{"r":11,"c":"L","k":1,"t":1966.6,"v":-6},{"r":11,"c":"L","k":1,"t":1967.5,"v":-1},{"r":11,"c":"L","k":1,"t":1970,"v":-1},{"r":11,"c":"L","k":1,"t":1981,"v":-1},{"r":11,"c":"L","k":1,"t":1991,"v":-1},{"r":11,"c":"L","k":1,"t":2001,"v":-1},{"r":11,"c":"L","k":1,"t":2010,"v":-1},
{"r":11,"c":"L","k":2,"t":1960,"v":17},{"r":11,"c":"L","k":2,"t":1963,"v":17},{"r":11,"c":"L","k":2,"t":1964.6,"v":16},{"r":11,"c":"L","k":2,"t":1965.6,"v":2},{"r":11,"c":"L","k":2,"t":1966.5,"v":-9},{"r":11,"c":"L","k":2,"t":1967.5,"v":-14},{"r":11,"c":"L","k":2,"t":1970,"v":-18},{"r":11,"c":"L","k":2,"t":1974,"v":-22},{"r":11,"c":"L","k":2,"t":1977,"v":-23},{"r":11,"c":"L","k":2,"t":1984,"v":-25},{"r":11,"c":"L","k":2,"t":1989,"v":-21},{"r":11,"c":"L","k":2,"t":1994,"v":-17},{"r":11,"c":"L","k":2,"t":1997,"v":-14},{"r":11,"c":"L","k":2,"t":2000,"v":-11},{"r":11,"c":"L","k":2,"t":2005,"v":-6},{"r":11,"c":"L","k":2,"t":2010,"v":0},
{"r":11,"c":"L","k":3,"t":1960,"v":-45},{"r":11,"c":"L","k":3,"t":1965.8,"v":-45},{"r":11,"c":"L","k":3,"t":1966.5,"v":-40},{"r":11,"c":"L","k":3,"t":1967,"v":-33},{"r":11,"c":"L","k":3,"t":1968,"v":-24},{"r":11,"c":"L","k":3,"t":1969,"v":-20},{"r":11,"c":"L","k":3,"t":1972,"v":-22},{"r":11,"c":"L","k":3,"t":1977,"v":-24},{"r":11,"c":"L","k":3,"t":1985,"v":-26},{"r":11,"c":"L","k":3,"t":1988,"v":-25},{"r":11,"c":"L","k":3,"t":1993,"v":-21},{"r":11,"c":"L","k":3,"t":1998,"v":-17},{"r":11,"c":"L","k":3,"t":2004,"v":-13},{"r":11,"c":"L","k":3,"t":2008,"v":-11},{"r":11,"c":"L","k":3,"t":2010,"v":-10},

{"r":11,"c":"M","k":1,"t":1960,"v":-45},{"r":11,"c":"M","k":1,"t":1964.8,"v":-45},{"r":11,"c":"M","k":1,"t":1965.8,"v":-25},{"r":11,"c":"M","k":1,"t":1966.6,"v":-6},{"r":11,"c":"M","k":1,"t":1967.5,"v":-1},{"r":11,"c":"M","k":1,"t":1970,"v":-1},{"r":11,"c":"M","k":1,"t":1981,"v":-1},{"r":11,"c":"M","k":1,"t":1991,"v":-1},{"r":11,"c":"M","k":1,"t":1994.8,"v":-1},{"r":11,"c":"M","k":1,"t":1995.8,"v":12},{"r":11,"c":"M","k":1,"t":1996.7,"v":30},{"r":11,"c":"M","k":1,"t":1998,"v":38},{"r":11,"c":"M","k":1,"t":2001,"v":41},{"r":11,"c":"M","k":1,"t":2010,"v":42},
{"r":11,"c":"M","k":2,"t":1960,"v":17},{"r":11,"c":"M","k":2,"t":1963,"v":17},{"r":11,"c":"M","k":2,"t":1964.6,"v":16},{"r":11,"c":"M","k":2,"t":1965.6,"v":2},{"r":11,"c":"M","k":2,"t":1966.5,"v":-9},{"r":11,"c":"M","k":2,"t":1967.5,"v":-14},{"r":11,"c":"M","k":2,"t":1970,"v":-18},{"r":11,"c":"M","k":2,"t":1974,"v":-22},{"r":11,"c":"M","k":2,"t":1977,"v":-23},{"r":11,"c":"M","k":2,"t":1984,"v":-25},{"r":11,"c":"M","k":2,"t":1989,"v":-21},{"r":11,"c":"M","k":2,"t":1994,"v":-17},{"r":11,"c":"M","k":2,"t":1994.8,"v":-16},{"r":11,"c":"M","k":2,"t":1995.8,"v":-28},{"r":11,"c":"M","k":2,"t":1997.2,"v":-39},{"r":11,"c":"M","k":2,"t":2000,"v":-41},{"r":11,"c":"M","k":2,"t":2005,"v":-42},{"r":11,"c":"M","k":2,"t":2010,"v":-42},
{"r":11,"c":"M","k":3,"t":1960,"v":-45},{"r":11,"c":"M","k":3,"t":1965.8,"v":-45},{"r":11,"c":"M","k":3,"t":1966.5,"v":-40},{"r":11,"c":"M","k":3,"t":1967,"v":-33},{"r":11,"c":"M","k":3,"t":1968,"v":-24},{"r":11,"c":"M","k":3,"t":1969,"v":-20},{"r":11,"c":"M","k":3,"t":1972,"v":-22},{"r":11,"c":"M","k":3,"t":1977,"v":-24},{"r":11,"c":"M","k":3,"t":1985,"v":-26},{"r":11,"c":"M","k":3,"t":1988,"v":-25},{"r":11,"c":"M","k":3,"t":1993,"v":-21},{"r":11,"c":"M","k":3,"t":1995,"v":-20},{"r":11,"c":"M","k":3,"t":1996.5,"v":-23},{"r":11,"c":"M","k":3,"t":1998,"v":-25},{"r":11,"c":"M","k":3,"t":2002,"v":-30},{"r":11,"c":"M","k":3,"t":2008,"v":-34},{"r":11,"c":"M","k":3,"t":2010,"v":-39}
]},
"spacing":-2,
"resolve":{"scale":{"x":"independent","y":"independent"}},
"vconcat":[
 {"spacing":-2,
  "resolve":{"scale":{"x":"independent","y":"independent"}},
  "hconcat":[
   {"width":173,"height":97,
    "data":{"values":[{"lab":"1= total damage|2= vulnerable property|3= mitigated property"}]},
    "mark":{"type":"text","lineBreak":"|","align":"left","baseline":"alphabetic","fontSize":16,"lineHeight":22,"font":"Liberation Serif","color":"#000000"},
    "encoding":{
     "x":{"datum":11,"type":"quantitative","scale":{"domain":[0,173],"nice":false,"zero":false},"axis":null},
     "y":{"datum":33,"type":"quantitative","scale":{"domain":[0,97],"reverse":true,"nice":false,"zero":false},"axis":null},
     "text":{"field":"lab","type":"nominal"}}},
   {"data":{"values":[{"c":"B","name":"Base"},{"c":"H","name":"High frequency"},{"c":"L","name":"Low frequency"},{"c":"M","name":"Major event"}]},
    "facet":{"column":{"field":"c","type":"nominal","header":null,"sort":["B","H","L","M"]}},
    "spacing":0,
    "bounds":"flush",
    "spec":{"width":264,"height":97,
     "mark":{"type":"text","align":"center","baseline":"alphabetic","fontSize":15,"font":"Liberation Serif","color":"#000000"},
     "encoding":{
      "x":{"datum":132,"type":"quantitative","scale":{"domain":[0,264],"nice":false,"zero":false},"axis":null},
      "y":{"datum":16,"type":"quantitative","scale":{"domain":[0,97],"reverse":true,"nice":false,"zero":false},"axis":null},
      "text":{"field":"name","type":"nominal"}}}}
  ]},
 {"spacing":-2,
  "resolve":{"scale":{"x":"independent","y":"independent"}},
  "hconcat":[
   {"data":{"values":[{"r":8,"lab":"8. Reduce Property|Tax Pressures"},{"r":9,"lab":"9. Recovery with Open|Space"},{"r":10,"lab":"10. Restore Natural|Barrier Protection"},{"r":11,"lab":"11. Community Rating|System (CRS)"}]},
    "facet":{"row":{"field":"r","type":"ordinal","header":null,"sort":[8,9,10,11]}},
    "spacing":0,
    "bounds":"flush",
    "spec":{"width":173,"height":146,
     "mark":{"type":"text","lineBreak":"|","align":"left","baseline":"alphabetic","fontSize":16.5,"lineHeight":17,"font":"Liberation Serif","color":"#000000"},
     "encoding":{
      "x":{"datum":11,"type":"quantitative","scale":{"domain":[0,173],"nice":false,"zero":false},"axis":null},
      "y":{"datum":18,"type":"quantitative","scale":{"domain":[0,146],"reverse":true,"nice":false,"zero":false},"axis":null},
      "text":{"field":"lab","type":"nominal"}}}},
   {"data":{"name":"lines"},
    "facet":{"row":{"field":"r","type":"ordinal","header":null,"sort":[8,9,10,11]},"column":{"field":"c","type":"nominal","header":null,"sort":["B","H","L","M"]}},
    "spacing":0,
    "bounds":"flush",
    "spec":{"width":264,"height":146,
     "layer":[
      {"transform":[{"filter":"datum.k==1 && datum.t==1960"}],
       "layer":[
        {"mark":{"type":"rect","fillOpacity":0,"stroke":"#000000","strokeWidth":1.4},
         "encoding":{
          "x":{"datum":1960,"type":"quantitative","scale":{"domain":[1942.73,2022.73],"nice":false,"zero":false},"axis":null},
          "x2":{"datum":2010},
          "y":{"datum":-45,"type":"quantitative","scale":{"domain":[-85.83,227.94],"nice":false,"zero":false},"axis":null},
          "y2":{"datum":200}}},
        {"mark":{"type":"rule","stroke":"#000000","strokeWidth":1.2},
         "encoding":{
          "x":{"datum":1985,"type":"quantitative","scale":{"domain":[1942.73,2022.73],"nice":false,"zero":false},"axis":null},
          "y":{"datum":-45,"type":"quantitative","scale":{"domain":[-85.83,227.94],"nice":false,"zero":false},"axis":null},
          "y2":{"datum":200}}},
        {"mark":{"type":"rule","stroke":"#000000","strokeWidth":1.2},
         "encoding":{
          "x":{"datum":1960,"type":"quantitative","scale":{"domain":[1942.73,2022.73],"nice":false,"zero":false},"axis":null},
          "x2":{"datum":2010},
          "y":{"datum":77.5,"type":"quantitative","scale":{"domain":[-85.83,227.94],"nice":false,"zero":false},"axis":null}}},
        {"mark":{"type":"text","text":"200","align":"right","baseline":"alphabetic","dx":-13,"dy":15,"fontSize":15.5,"font":"Liberation Serif","color":"#000000"},
         "encoding":{
          "x":{"datum":1960,"type":"quantitative","scale":{"domain":[1942.73,2022.73],"nice":false,"zero":false},"axis":null},
          "y":{"datum":200,"type":"quantitative","scale":{"domain":[-85.83,227.94],"nice":false,"zero":false},"axis":null}}},
        {"mark":{"type":"text","text":"0","align":"right","baseline":"alphabetic","dx":-13,"dy":6,"fontSize":15.5,"font":"Liberation Serif","color":"#000000"},
         "encoding":{
          "x":{"datum":1960,"type":"quantitative","scale":{"domain":[1942.73,2022.73],"nice":false,"zero":false},"axis":null},
          "y":{"datum":0,"type":"quantitative","scale":{"domain":[-85.83,227.94],"nice":false,"zero":false},"axis":null}}},
        {"mark":{"type":"text","text":"1960","align":"center","baseline":"alphabetic","dy":18,"fontSize":15.5,"font":"Liberation Serif","color":"#000000"},
         "encoding":{
          "x":{"datum":1960,"type":"quantitative","scale":{"domain":[1942.73,2022.73],"nice":false,"zero":false},"axis":null},
          "y":{"datum":-45,"type":"quantitative","scale":{"domain":[-85.83,227.94],"nice":false,"zero":false},"axis":null}}},
        {"mark":{"type":"text","text":"1985","align":"center","baseline":"alphabetic","dy":18,"fontSize":15.5,"font":"Liberation Serif","color":"#000000"},
         "encoding":{
          "x":{"datum":1985,"type":"quantitative","scale":{"domain":[1942.73,2022.73],"nice":false,"zero":false},"axis":null},
          "y":{"datum":-45,"type":"quantitative","scale":{"domain":[-85.83,227.94],"nice":false,"zero":false},"axis":null}}},
        {"mark":{"type":"text","text":"2010","align":"center","baseline":"alphabetic","dy":18,"fontSize":15.5,"font":"Liberation Serif","color":"#000000"},
         "encoding":{
          "x":{"datum":2010,"type":"quantitative","scale":{"domain":[1942.73,2022.73],"nice":false,"zero":false},"axis":null},
          "y":{"datum":-45,"type":"quantitative","scale":{"domain":[-85.83,227.94],"nice":false,"zero":false},"axis":null}}}
       ]},
      {"transform":[{"filter":"datum.k==1"}],
       "mark":{"type":"line","interpolate":"monotone","stroke":"#8c8c8c","strokeWidth":1.5},
       "encoding":{
        "x":{"field":"t","type":"quantitative","scale":{"domain":[1942.73,2022.73],"nice":false,"zero":false},"axis":null},
        "y":{"field":"v","type":"quantitative","scale":{"domain":[-85.83,227.94],"nice":false,"zero":false},"axis":null}}},
      {"transform":[{"filter":"datum.k==3"}],
       "mark":{"type":"line","interpolate":"monotone","stroke":"#000000","strokeWidth":1.3},
       "encoding":{
        "x":{"field":"t","type":"quantitative","scale":{"domain":[1942.73,2022.73],"nice":false,"zero":false},"axis":null},
        "y":{"field":"v","type":"quantitative","scale":{"domain":[-85.83,227.94],"nice":false,"zero":false},"axis":null}}},
      {"transform":[{"filter":"datum.k==2"}],
       "mark":{"type":"line","interpolate":"monotone","stroke":"#000000","strokeWidth":3},
       "encoding":{
        "x":{"field":"t","type":"quantitative","scale":{"domain":[1942.73,2022.73],"nice":false,"zero":false},"axis":null},
        "y":{"field":"v","type":"quantitative","scale":{"domain":[-85.83,227.94],"nice":false,"zero":false},"axis":null}}},
      {"transform":[{"filter":"indexof(datum.k==1?[1960,1970,1981,1991,2001]:(datum.k==2?[1963,1974,1984,1994,2005]:[1967,1977,1988,1998,2008]),datum.t)>=0"}],
       "mark":{"type":"text","fontSize":8.5,"font":"Liberation Serif","color":"#000000","baseline":"middle","align":"center"},
       "encoding":{
        "x":{"field":"t","type":"quantitative","scale":{"domain":[1942.73,2022.73],"nice":false,"zero":false},"axis":null},
        "y":{"field":"v","type":"quantitative","scale":{"domain":[-85.83,227.94],"nice":false,"zero":false},"axis":null},
        "text":{"field":"k","type":"nominal"}}}
     ]}}
  ]}
]
}
